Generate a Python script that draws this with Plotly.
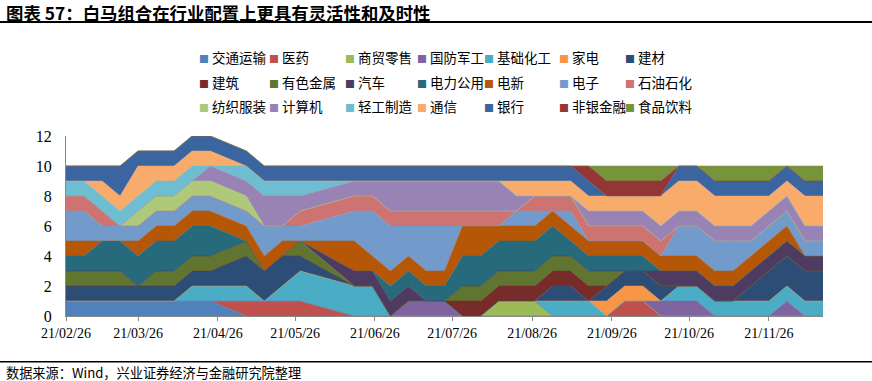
import plotly.graph_objects as go

dates = ["2021-02-26","2021-03-05","2021-03-12","2021-03-19","2021-03-26","2021-04-02","2021-04-09","2021-04-16","2021-04-23","2021-05-07",
         "2021-05-14","2021-05-21","2021-05-28","2021-06-18","2021-06-25","2021-07-02","2021-07-09","2021-07-16","2021-07-23","2021-07-30",
         "2021-08-06","2021-08-13","2021-08-20","2021-08-27","2021-09-03","2021-09-10","2021-09-17","2021-09-24","2021-10-01","2021-10-08",
         "2021-10-15","2021-10-22","2021-10-29","2021-11-05","2021-11-12","2021-11-19","2021-11-26","2021-12-03","2021-12-10","2021-12-17"]

tick_dates = ["2021-02-26","2021-03-26","2021-04-26","2021-05-26","2021-06-26","2021-07-26","2021-08-26","2021-09-26","2021-10-26","2021-11-26"]
tick_text = ["21/02/26","21/03/26","21/04/26","21/05/26","21/06/26","21/07/26","21/08/26","21/09/26","21/10/26","21/11/26"]

jiaotong  = [1,1,1,1,1,1,1,1,1,0, 0,0,0,0,0,0,0,0,0,0, 0,0,0,0,0,0,0,0,0,0, 0,0,0,0,0,0,0,0,0,0]
yiyao     = [0,0,0,0,0,0,0,0,0,1, 1,1,1,0,0,0,0,0,0,0, 0,0,0,0,0,0,0,0,1,1, 0,0,0,0,0,0,0,0,0,0]
shangmao  = [0,0,0,0,0,0,0,0,0,0, 0,0,0,0,0,0,0,0,0,0, 0,1,1,1,0,0,0,0,0,0, 0,0,0,0,0,0,0,0,0,0]
guofang   = [0,0,0,0,0,0,0,0,0,0, 0,0,0,0,0,0,1,1,1,0, 0,0,0,0,0,0,0,0,0,0, 1,1,1,0,0,0,0,1,0,0]
jichu     = [0,0,0,0,0,0,0,1,1,1, 0,1,2,2,2,0,0,0,0,0, 0,0,0,0,1,1,1,0,0,0, 0,1,1,1,1,1,1,1,1,1]
jiadian   = [0,0,0,0,0,0,0,0,0,0, 0,0,0,0,0,0,0,0,0,0, 0,0,0,0,0,0,0,1,1,1, 0,0,0,0,0,0,0,0,0,0]
jiancai   = [1,1,1,1,1,1,1,1,1,2, 2,2,1,0,0,0,0,0,0,0, 0,0,0,0,1,1,0,1,1,1, 1,0,0,0,0,1,2,2,2,2]
jianzhu   = [0,0,0,0,0,0,0,0,0,0, 0,0,0,0,0,0,0,0,0,1, 1,1,1,1,1,1,1,0,0,0, 0,0,0,0,0,0,0,0,0,0]
youse     = [1,1,1,1,0,1,1,1,1,1, 0,0,1,0,0,0,0,0,0,1, 1,1,1,1,1,1,1,1,0,0, 0,0,0,0,0,0,0,0,0,0]
qiche     = [0,0,0,0,0,0,0,0,0,0, 0,0,0,1,1,1,1,0,0,0, 0,0,0,0,0,0,0,0,0,0, 1,1,1,1,1,1,1,1,1,1]
dianli    = [1,1,2,2,2,2,2,2,2,0, 0,0,0,0,0,1,1,1,1,2, 2,2,2,2,2,1,1,1,1,1, 0,0,0,0,0,0,0,0,0,0]
dianxin   = [1,1,0,0,1,1,1,1,1,1, 1,1,0,2,1,1,1,1,1,2, 2,1,1,1,1,1,1,1,1,1, 1,1,1,1,1,1,1,1,0,0]
dianzi    = [2,2,1,1,1,1,1,1,1,1, 2,1,1,2,3,3,2,3,3,0, 0,0,1,1,0,1,0,0,0,0, 0,2,2,2,2,1,1,1,1,1]
shiyou    = [1,1,1,0,0,0,0,0,0,0, 0,0,1,1,1,1,1,1,1,1, 1,1,0,1,1,1,1,1,1,1, 1,0,0,0,0,0,0,0,0,0]
fangzhi   = [0,0,0,0,1,1,1,1,1,1, 0,0,0,0,0,0,0,0,0,0, 0,0,0,0,0,0,0,0,0,0, 0,0,0,0,0,0,0,0,0,0]
jisuanji  = [0,0,0,0,0,0,0,0,1,1, 2,2,1,1,1,2,2,2,2,2, 2,2,1,0,0,0,1,1,1,1, 1,1,1,1,1,1,1,1,1,1]
qinggong  = [1,1,1,1,1,1,1,1,0,1, 1,1,1,0,0,0,0,0,0,0, 0,0,0,0,0,0,0,0,0,0, 0,0,0,0,0,0,0,0,0,0]
tongxin   = [0,0,1,1,2,1,1,1,1,0, 0,0,0,0,0,0,0,0,0,0, 0,0,1,1,1,1,1,1,1,1, 2,2,2,2,2,2,1,1,2,2]
yinhang   = [1,1,1,2,1,1,1,1,1,1, 1,1,1,1,1,1,1,1,1,1, 1,1,1,1,1,1,1,0,0,0, 0,1,1,1,1,1,1,1,1,1]
feiyin    = [0,0,0,0,0,0,0,0,0,0, 0,0,0,0,0,0,0,0,0,0, 0,0,0,0,0,0,1,1,1,1, 1,0,0,0,0,0,0,0,0,0]
shipin    = [0,0,0,0,0,0,0,0,0,0, 0,0,0,0,0,0,0,0,0,0, 0,0,0,0,0,0,0,1,1,1, 1,0,0,1,1,1,1,0,1,1]

names = ["交通运输","医药","商贸零售","国防军工","基础化工","家电","建材",
         "建筑","有色金属","汽车","电力公用","电新","电子","石油石化",
         "纺织服装","计算机","轻工制造","通信","银行","非银金融","食品饮料"]
series = [jiaotong, yiyao, shangmao, guofang, jichu, jiadian, jiancai,
          jianzhu, youse, qiche, dianli, dianxin, dianzi, shiyou,
          fangzhi, jisuanji, qinggong, tongxin, yinhang, feiyin, shipin]
colors = ["#4F81BD","#C0504D","#9BBB59","#8064A2","#4BACC6","#F79646","#2C4D75",
          "#772C2A","#5F7530","#4D3B62","#276A7C","#B65708","#729ACA","#CD7371",
          "#AFC97A","#9983B5","#6FBDD1","#F9AB6B","#3A65A0","#943634","#77933C"]

fig = go.Figure()
for name, vals, col in zip(names, series, colors):
    fig.add_trace(go.Scatter(x=dates, y=vals, name=name, mode="lines",
                             stackgroup="one", line=dict(width=0.5, color=col),
                             fillcolor=col, showlegend=False, hoverinfo="skip"))

W, H = 872, 381
L, R, T, B = 66, 49, 136, 65
pw, ph = W - L - R, H - T - B
def px(x):
    return (x - L) / pw
def py(y):
    return (H - B - y) / ph

fig.update_layout(
    width=W, height=H,
    margin=dict(l=L, r=R, t=T, b=B, pad=0, autoexpand=False),
    paper_bgcolor="white", plot_bgcolor="white",
    showlegend=False,
    xaxis=dict(type="date", range=[dates[0], dates[-1]], tickvals=tick_dates, ticktext=tick_text,
               ticks="outside", ticklen=4, tickcolor="#888888", showgrid=False,
               showline=True, linecolor="#888888", linewidth=1, zeroline=False,
               tickfont=dict(family="Liberation Serif", size=14, color="#000000"),
               layer="below traces"),
    yaxis=dict(range=[0, 12], dtick=2, tick0=0, ticks="inside", ticklen=5, tickcolor="#888888",
               showgrid=False, showline=True, linecolor="#888888", linewidth=1, zeroline=False,
               tickfont=dict(family="Liberation Serif", size=16, color="#000000"),
               ticklabelstandoff=10, layer="below traces"),
    font=dict(family="Noto Sans CJK SC", color="#000000"),
)

# legend (3 rows x 7 columns), coloured square glyph + label
leg_cols = [201.7, 271.7, 348.3, 420.0, 486.7, 561.7, 628.3]
leg_rows = [57, 82, 106]
for k, (name, col) in enumerate(zip(names, colors)):
    cx = leg_cols[k % 7]
    cy = leg_rows[k // 7]
    fig.add_annotation(text=f'<span style="font-size:10px;color:{col}">■</span> {name}',
                       xref="paper", yref="paper", x=px(cx - 5), y=py(cy),
                       xanchor="left", yanchor="middle", showarrow=False,
                       font=dict(family="Noto Sans CJK SC", size=13.5, color="#000000"))

fig.add_annotation(text="<b>图表 57：白马组合在行业配置上更具有灵活性和及时性</b>",
                   xref="paper", yref="paper", x=px(4), y=py(12), xanchor="left", yanchor="middle",
                   showarrow=False, font=dict(family="Noto Sans CJK SC", size=17.4, color="#000000"))
fig.add_annotation(text="数据来源：Wind，兴业证券经济与金融研究院整理",
                   xref="paper", yref="paper", x=px(4), y=py(372.5), xanchor="left", yanchor="middle",
                   showarrow=False, font=dict(family="Noto Sans CJK SC", size=13.2, color="#000000"))
fig.add_shape(type="line", xref="paper", yref="paper", x0=px(0), x1=px(872), y0=py(22), y1=py(22),
              line=dict(color="#000000", width=2))
fig.add_shape(type="line", xref="paper", yref="paper", x0=px(0), x1=px(872), y0=py(361.7), y1=py(361.7),
              line=dict(color="#000000", width=1.5))

fig.write_html("out.html", config={"displayModeBar": False},
               post_script="document.body.style.margin='0';document.body.style.overflow='hidden';")
